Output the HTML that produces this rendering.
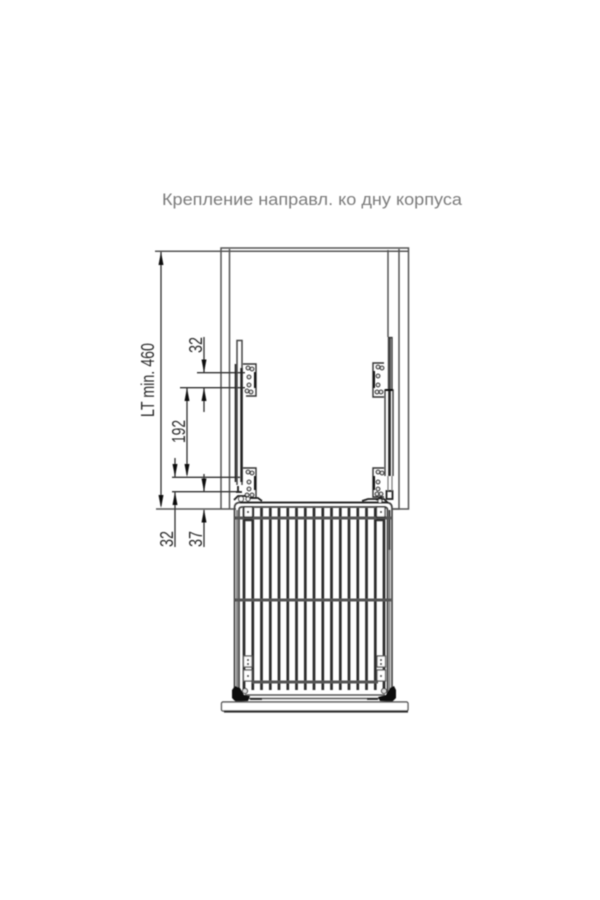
<!DOCTYPE html>
<html><head><meta charset="utf-8"><style>
html,body{margin:0;padding:0;background:#fff}
svg{display:block}
text{font-family:"Liberation Sans","Noto Sans CJK SC",sans-serif}
</style></head><body>
<svg width="600" height="900" viewBox="0 0 600 900" xmlns="http://www.w3.org/2000/svg">
<defs>
<filter id="b" x="-5%" y="-5%" width="110%" height="110%"><feGaussianBlur stdDeviation="0.5"/></filter>
</defs>
<rect width="600" height="900" fill="#fff"/>
<text x="162" y="205" font-size="17" fill="#7c7c7c" textLength="300" lengthAdjust="spacingAndGlyphs" filter="url(#b)">Крепление направл. ко дну корпуса</text>
<g filter="url(#b)" fill="none" stroke-linecap="butt">
<!-- cabinet -->
<g stroke="#555" stroke-width="1.500">
<path d="M221 509V248H408.500V509H392"/>
<path d="M155 251.300H408"/>
<path d="M229.500 249V509M399 249V509H393"/>
<path d="M388 250V337"/>
<path d="M156 509H236"/>
</g>
<!-- dimensions -->
<g stroke="#333" stroke-width="1.300">
<path d="M161 252V506"/>
<path d="M197 372.700H245M180 387.700H245M172 477.300H240M172 491.700H240"/>
<path d="M204 337V372M204 388V412M204 474V491M204 510V547"/>
<path d="M187 388V475M175 458V477M175 492V547"/>
</g>
<g fill="#111" stroke="none">
<path d="M161 252l-2.500 13h5zM161 508l-2.500-13h5z"/>
<path d="M204 372.500l-2.500-13h5zM204 388l-2.500 13h5zM204 491.500l-2.500-13h5zM204 509.500l-2.500 13h5z"/>
<path d="M187 388l-2.500 13h5zM187 477l-2.500-13h5z"/>
<path d="M175 477l-2.500-13h5zM175 492l-2.500 13h5z"/>
</g>
<!-- left rail -->
<path d="M237 485V340.500H242V485" stroke="#444" stroke-width="1.500"/>
<path d="M235.500 364V482" stroke="#222" stroke-width="1.600"/>
<path d="M241.500 368V482" stroke="#222" stroke-width="2.400"/>
<!-- right rail -->
<path d="M388.500 390V337.500H392V390" stroke="#333" stroke-width="1.300"/>
<path d="M390 338V390" stroke="#333" stroke-width="1.600"/>
<path d="M385 476V390H393V476" stroke="#444" stroke-width="1.500"/>
<path d="M385 390H393" stroke="#111" stroke-width="2"/>
<path d="M389.500 391V476" stroke="#222" stroke-width="2.600"/>
<rect x="386.500" y="491" width="6" height="8" stroke="#222" stroke-width="1.800"/>
<path d="M388 476V491M392 476V491" stroke="#777" stroke-width="1.200"/>
<!-- brackets -->
<g stroke="#333" stroke-width="1.400">
<path d="M243 364H256V396H246"/>
<path d="M243 468H256V498H246"/>
<path d="M384 363H373V397H384"/>
<path d="M384 468H373V497H384"/>
</g>
<g stroke="#111" stroke-width="2">
<path d="M255 372V388M255 476V490M374 371V388M374 476V490"/>
</g>
<g stroke="#333" stroke-width="1.200" fill="#eee">
<circle cx="248" cy="368" r="1.800"/><circle cx="252" cy="369" r="1.800"/><circle cx="249" cy="377" r="1.800"/><circle cx="249" cy="385" r="1.800"/><circle cx="251" cy="392" r="1.800"/><circle cx="247" cy="391" r="1.800"/>
<circle cx="248" cy="472" r="1.800"/><circle cx="252" cy="473" r="1.800"/><circle cx="249" cy="482" r="1.800"/><circle cx="249" cy="489" r="1.800"/><circle cx="252" cy="495" r="1.800"/><circle cx="247" cy="495" r="1.800"/>
<circle cx="378" cy="367" r="1.800"/><circle cx="382" cy="368" r="1.800"/><circle cx="378" cy="376" r="1.800"/><circle cx="378" cy="385" r="1.800"/><circle cx="381" cy="392" r="1.800"/><circle cx="377" cy="392" r="1.800"/>
<circle cx="378" cy="472" r="1.800"/><circle cx="382" cy="473" r="1.800"/><circle cx="378" cy="482" r="1.800"/><circle cx="378" cy="489" r="1.800"/><circle cx="381" cy="494" r="1.800"/><circle cx="377" cy="494" r="1.800"/>
</g>
<!-- basket bars -->
<g stroke="#2a2a2a" stroke-width="2.700">
<path d="M244 508V690M252.800 508V690M261.500 508V690M270.300 508V690M279 508V690M287.800 508V690M296.500 508V690M305.300 508V690M314 508V690M322.800 508V690M331.500 508V690M340.300 508V690M349 508V690M357.800 508V690M366.500 508V690M375.300 508V690M384 508V690"/>
</g>
<!-- basket frame -->
<g stroke="#444" stroke-width="1.700">
<path d="M234.500 700V508Q234.500 503 239 502.500H387Q392 503 392 508V700"/>
<path d="M239 695V510Q239 507 242 507H384Q387.500 507 387.500 510V695"/>
</g>
<path d="M237 510V695" stroke="#777" stroke-width="1.700"/>
<path d="M389.500 510V550" stroke="#333" stroke-width="1.700"/>
<path d="M389.500 550V695" stroke="#888" stroke-width="1.700"/>
<path d="M240 502.500H388" stroke="#222" stroke-width="1.800"/>
<!-- cross bars -->
<g stroke="#555">
<path d="M235 518H391" stroke-width="3"/>
<path d="M235 600H391" stroke-width="3"/>
<path d="M252 682H378" stroke-width="3"/>
<path d="M245 695H385" stroke-width="1.600"/>
<path d="M245 698.500H385" stroke-width="1.600"/>
</g>
<!-- top corner boxes -->
<g stroke="#333" stroke-width="1.300" fill="#fff">
<rect x="244" y="507" width="8.500" height="10"/>
<rect x="376.500" y="507" width="8.500" height="10"/>
</g>
<path d="M244 520H252.500M376.500 520H385" stroke="#333" stroke-width="2.400"/>
<circle cx="248" cy="512" r="1.100" fill="#111" stroke="none"/>
<circle cx="381" cy="512" r="1.100" fill="#111" stroke="none"/>
<!-- top clutter -->
<g stroke="#222" stroke-width="1.800">
<path d="M234 500L238 496H245L249 498H258L262 501M236 492H242M238 486V492"/>
<path d="M362 501L368 499H384L388 503M376 500L382 497"/>
</g>
<g stroke="#333" stroke-width="1.100" fill="#fff">
<circle cx="241" cy="499" r="2.500"/><circle cx="248" cy="499" r="2"/>
<circle cx="380" cy="501" r="2"/>
</g>
<!-- rear corner boxes -->
<g stroke="#555" stroke-width="1.300" fill="#fff">
<rect x="243.500" y="656" width="8.500" height="11"/>
<rect x="243.500" y="670" width="8.500" height="11"/>
<rect x="377" y="656" width="8.500" height="11"/>
<rect x="377" y="670" width="8.500" height="11"/>
</g>
<g fill="#333" stroke="none">
<circle cx="248" cy="660" r="1.100"/><circle cx="248" cy="664" r="1.100"/><circle cx="248" cy="676" r="1.100"/>
<circle cx="381" cy="660" r="1.100"/><circle cx="381" cy="664" r="1.100"/><circle cx="381" cy="676" r="1.100"/>
</g>
<!-- wheels -->
<g fill="#111" stroke="none">
<path d="M232 690L235 686L240 688L244 695L250 696L248 701L236 702L232 698Z"/>
<path d="M396 690L394 686L390 688L386 695L378 697L380 701L392 702L396 698Z"/>
</g>
<g fill="#ddd" stroke="#222" stroke-width="1">
<circle cx="245" cy="691" r="2.500"/><circle cx="384" cy="691" r="2.500"/>
</g>
<path d="M250 699H262M367 699H378" stroke="#222" stroke-width="1.800"/>
<!-- base plate -->
<rect x="221.500" y="702" width="186.500" height="9" rx="1.500" stroke="#555" stroke-width="1.400" fill="#fff"/>
<path d="M224 711.500H408" stroke="#333" stroke-width="2.200"/>
</g>
<g fill="#2a2a2a" font-size="18" filter="url(#b)">
<text transform="translate(154 417) rotate(-90)" textLength="74" lengthAdjust="spacingAndGlyphs">LT min. 460</text>
<text transform="translate(202 353) rotate(-90)" textLength="16" lengthAdjust="spacingAndGlyphs">32</text>
<text transform="translate(185 443) rotate(-90)" textLength="23" lengthAdjust="spacingAndGlyphs">192</text>
<text transform="translate(173 547) rotate(-90)" textLength="16" lengthAdjust="spacingAndGlyphs">32</text>
<text transform="translate(202 547) rotate(-90)" textLength="16" lengthAdjust="spacingAndGlyphs">37</text>
</g>
</svg>
</body></html>
